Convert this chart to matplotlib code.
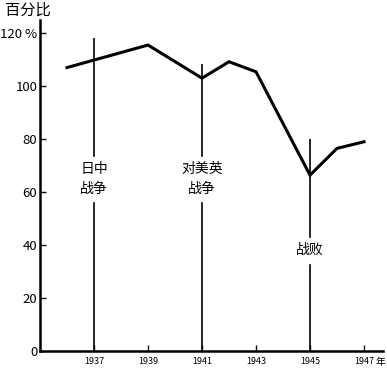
import matplotlib.pyplot as plt

plt.rcParams['font.family'] = ['Noto Sans CJK SC', 'DejaVu Sans']

years = [1936, 1939, 1941, 1942, 1943, 1945, 1946, 1947]
percent = [107, 115.5, 103, 109.2, 105.4, 66.4, 76.5, 79]

event_years = [1937, 1941, 1945]
event_labels = ['日中\n战争', '对美英\n战争', '战败']
event_tops = [118, 108.5, 80]
event_text_y = [65, 65, 38]

xticks = [1937, 1939, 1941, 1943, 1945, 1947]
yticks = [0, 20, 40, 60, 80, 100, 120]
ytick_labels = ['0', '20', '40', '60', '80', '100', '120 %']

fig = plt.figure(figsize=(3.87, 3.68), dpi=100)
ax = fig.add_axes([0.1034, 0.046, 0.886, 0.9])

ax.plot(years, percent, color='black', lw=2.2, solid_joinstyle='miter')

for yr, lab, top, ty in zip(event_years, event_labels, event_tops, event_text_y):
    ax.vlines(yr, 0, top, color='black', lw=1.2)
    ax.text(yr, ty, lab, ha='center', va='center', fontsize=10,
            linespacing=1.5, backgroundcolor='white')

ax.set_xlim(1935, 1947.7)
ax.set_ylim(0, 125)
ax.set_xticks(xticks)
ax.set_xticklabels([str(x) for x in xticks], fontsize=6.5)
ax.set_yticks(yticks)
ax.set_yticklabels(ytick_labels, fontsize=9.5)
ax.tick_params(direction='in', length=4, width=1, pad=2)
ax.tick_params(axis='x', pad=4)

for s in ['top', 'right']:
    ax.spines[s].set_visible(False)
for s in ['left', 'bottom']:
    ax.spines[s].set_linewidth(1.8)

fig.text(0.013, 0.972, '百分比', fontsize=11, ha='left', va='center')
fig.text(0.982, 0.016, '年', fontsize=7, ha='center', va='center')

fig.savefig('out.png', dpi=100)
